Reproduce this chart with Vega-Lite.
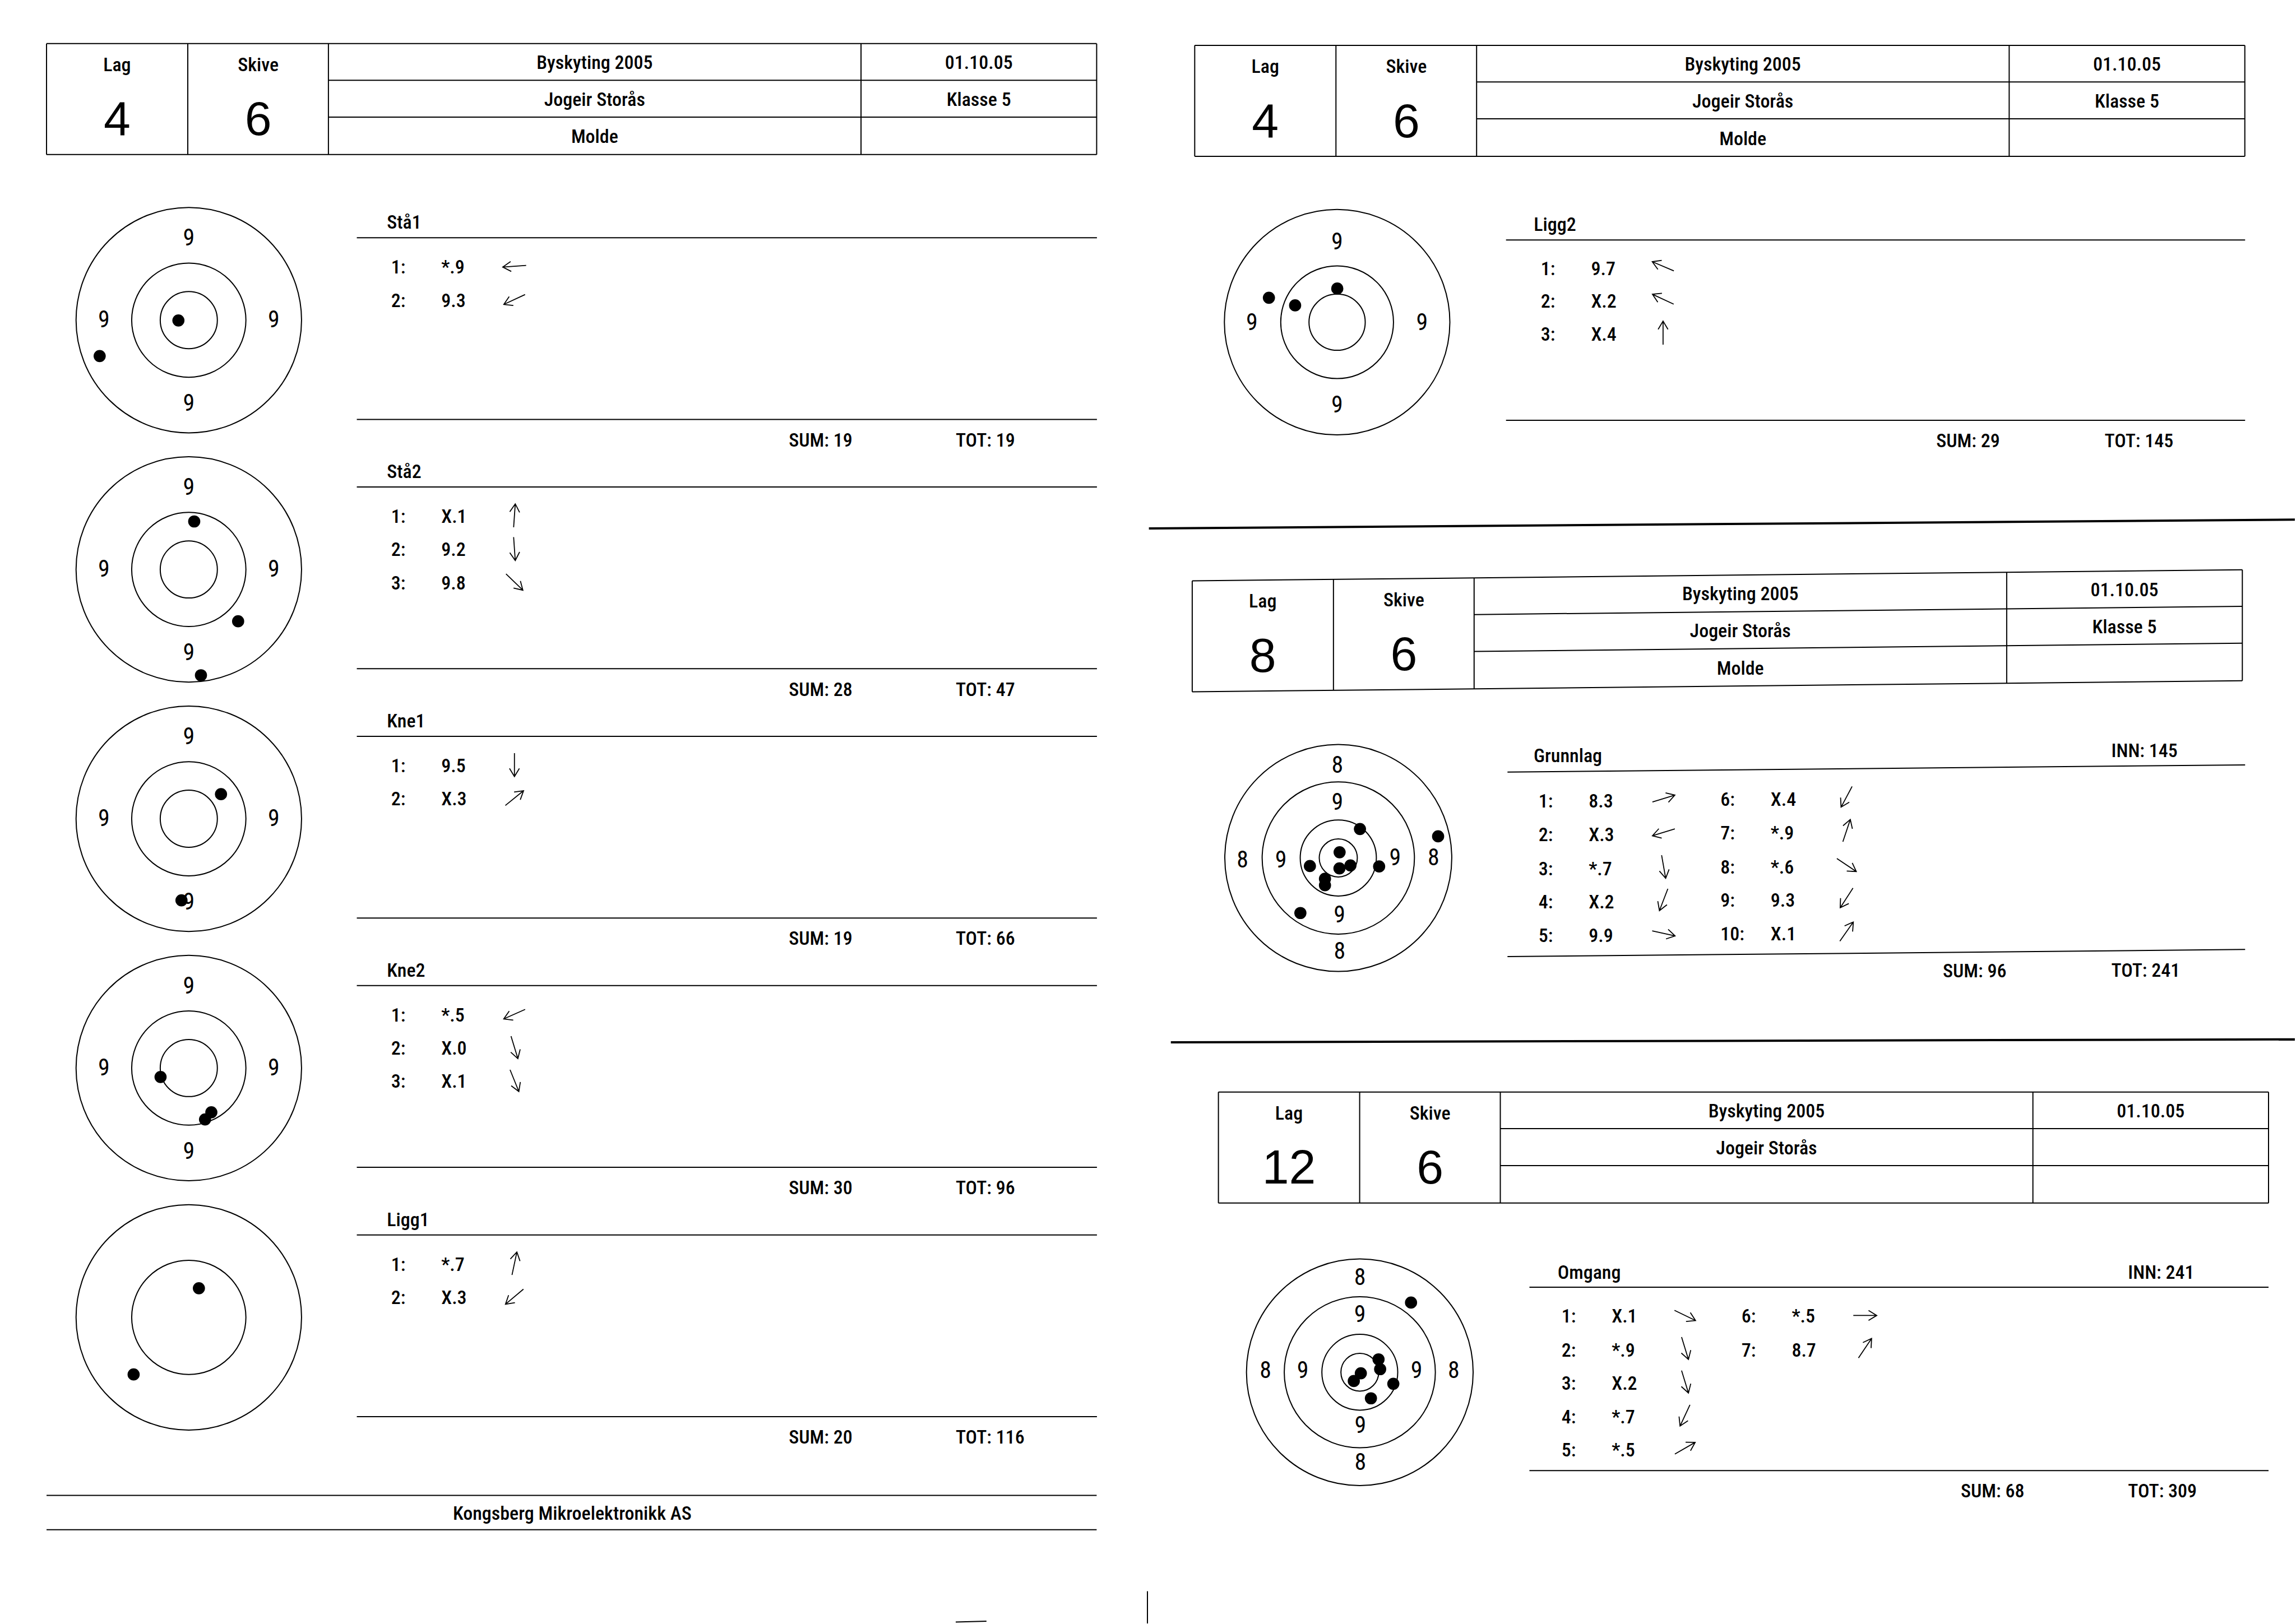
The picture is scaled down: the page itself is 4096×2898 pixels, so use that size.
{
"$schema":"https://vega.github.io/schema/vega-lite/v6.json",
"width":4096,"height":2898,"padding":0,
"autosize":{"type":"fit","contains":"padding"},
"background":"white",
"config":{"view":{"stroke":null}},
"datasets":{
"lines":[
{"x":31.8,"y":29.8,"x2":749.3,"y2":29.8},{"x":31.8,"y":105.6,"x2":749.3,"y2":105.6},
{"x":31.8,"y":29.8,"x2":31.8,"y2":105.6},{"x":128.3,"y":29.8,"x2":128.3,"y2":105.6},{"x":224.4,"y":29.8,"x2":224.4,"y2":105.6},{"x":588.3,"y":29.8,"x2":588.3,"y2":105.6},{"x":749.3,"y":29.8,"x2":749.3,"y2":105.6},
{"x":224.4,"y":54.8,"x2":749.3,"y2":54.8},{"x":224.4,"y":80,"x2":749.3,"y2":80},
{"x":243.8,"y":162.4,"x2":749.5,"y2":162.4},{"x":243.8,"y":286.5,"x2":749.5,"y2":286.5},
{"x":243.8,"y":332.7,"x2":749.5,"y2":332.7},{"x":243.8,"y":456.8,"x2":749.5,"y2":456.8},
{"x":243.8,"y":503,"x2":749.5,"y2":503},{"x":243.8,"y":627.1,"x2":749.5,"y2":627.1},
{"x":243.8,"y":673.3,"x2":749.5,"y2":673.3},{"x":243.8,"y":797.4,"x2":749.5,"y2":797.4},
{"x":243.8,"y":843.6,"x2":749.5,"y2":843.6},{"x":243.8,"y":967.7,"x2":749.5,"y2":967.7},
{"x":31.8,"y":1021.5,"x2":749.3,"y2":1021.5},{"x":31.8,"y":1045,"x2":749.3,"y2":1045},
{"x":816.3,"y":31,"x2":1533.8,"y2":31},{"x":816.3,"y":106.8,"x2":1533.8,"y2":106.8},
{"x":816.3,"y":31,"x2":816.3,"y2":106.8},{"x":912.8,"y":31,"x2":912.8,"y2":106.8},{"x":1008.9,"y":31,"x2":1008.9,"y2":106.8},{"x":1372.8,"y":31,"x2":1372.8,"y2":106.8},{"x":1533.8,"y":31,"x2":1533.8,"y2":106.8},
{"x":1008.9,"y":56,"x2":1533.8,"y2":56},{"x":1008.9,"y":81.2,"x2":1533.8,"y2":81.2},
{"x":1029,"y":163.9,"x2":1534,"y2":163.9},{"x":1029,"y":287.1,"x2":1534,"y2":287.1},
{"x":814.6,"y":396.8,"x2":1532.1,"y2":389.2},{"x":814.6,"y":472.6,"x2":1532.1,"y2":465.0},
{"x":814.6,"y":396.8,"x2":814.6,"y2":472.6},{"x":911.1,"y":395.8,"x2":911.1,"y2":471.6},{"x":1007.2,"y":394.8,"x2":1007.2,"y2":470.6},{"x":1371.1,"y":390.9,"x2":1371.1,"y2":466.7},{"x":1532.1,"y":389.2,"x2":1532.1,"y2":465.0},
{"x":1007.2,"y":419.8,"x2":1532.1,"y2":414.2},{"x":1007.2,"y":445.0,"x2":1532.1,"y2":439.4},
{"x":1030,"y":527.4,"x2":1534,"y2":522.5},{"x":1030,"y":653.5,"x2":1534,"y2":648.6},
{"x":832.5,"y":746,"x2":1550,"y2":746},{"x":832.5,"y":821.8,"x2":1550,"y2":821.8},
{"x":832.5,"y":746,"x2":832.5,"y2":821.8},{"x":929,"y":746,"x2":929,"y2":821.8},{"x":1025.1,"y":746,"x2":1025.1,"y2":821.8},{"x":1389,"y":746,"x2":1389,"y2":821.8},{"x":1550,"y":746,"x2":1550,"y2":821.8},
{"x":1025.1,"y":771,"x2":1550,"y2":771},{"x":1025.1,"y":796.2,"x2":1550,"y2":796.2},
{"x":1045,"y":879.3,"x2":1550,"y2":879.3},{"x":1045,"y":1004.6,"x2":1550,"y2":1004.6},
{"x":784,"y":1087,"x2":784,"y2":1109},{"x":653,"y":1108,"x2":674,"y2":1107.5}
],
"seps":[
{"x":785,"y":361,"x2":1568,"y2":355},{"x":800,"y":712,"x2":1568,"y2":710}
],
"rings":[
{"x":129,"y":218.7,"r":77},{"x":129,"y":218.7,"r":39},{"x":129,"y":218.7,"r":19.5},
{"x":129,"y":389,"r":77},{"x":129,"y":389,"r":39},{"x":129,"y":389,"r":19.5},
{"x":129,"y":559.3,"r":77},{"x":129,"y":559.3,"r":39},{"x":129,"y":559.3,"r":19.5},
{"x":129,"y":729.6,"r":77},{"x":129,"y":729.6,"r":39},{"x":129,"y":729.6,"r":19.5},
{"x":129,"y":899.9,"r":77},{"x":129,"y":899.9,"r":39},
{"x":913.6,"y":220.1,"r":77},{"x":913.6,"y":220.1,"r":38.5},{"x":913.6,"y":220.1,"r":19.2},
{"x":914.4,"y":586.1,"r":77.5},{"x":914.4,"y":586.1,"r":52},{"x":914.4,"y":586.1,"r":26},{"x":914.4,"y":586.1,"r":13},
{"x":929.1,"y":937.4,"r":77.4},{"x":929.1,"y":937.4,"r":51.6},{"x":929.1,"y":937.4,"r":25.9},{"x":929.1,"y":937.4,"r":12.9}
],
"shots":[
{"x":121.9,"y":218.9},{"x":68.1,"y":243.2},
{"x":132.7,"y":356.2},{"x":162.7,"y":424.4},{"x":137.3,"y":461.3},
{"x":151,"y":542.5},{"x":124,"y":615},
{"x":109.7,"y":735.7},{"x":144.4,"y":759.8},{"x":140.1,"y":764.7},
{"x":135.9,"y":880},{"x":91.3,"y":938.9},
{"x":913.7,"y":197.1},{"x":884.9,"y":208.6},{"x":867,"y":203.4},
{"x":929.2,"y":566.3},{"x":982.6,"y":571.3},{"x":915.3,"y":582.2},{"x":922.7,"y":591.2},{"x":915.2,"y":593.2},{"x":942.3,"y":591.9},{"x":895,"y":591.6},{"x":905.3,"y":600.3},{"x":905.3,"y":604.7},{"x":888.5,"y":623.7},
{"x":964.1,"y":889.8},{"x":941.9,"y":928.6},{"x":943,"y":935.3},{"x":929.8,"y":938.1},{"x":925,"y":943.4},{"x":952,"y":945.3},{"x":936.7,"y":955.2}
],
"ringlabels":[
{"x":129,"y":162.7,"t":"9"},{"x":129,"y":275.7,"t":"9"},{"x":71,"y":218.7,"t":"9"},{"x":187,"y":218.7,"t":"9"},
{"x":129,"y":333,"t":"9"},{"x":129,"y":446,"t":"9"},{"x":71,"y":389,"t":"9"},{"x":187,"y":389,"t":"9"},
{"x":129,"y":503.3,"t":"9"},{"x":129,"y":616.3,"t":"9"},{"x":71,"y":559.3,"t":"9"},{"x":187,"y":559.3,"t":"9"},
{"x":129,"y":673.6,"t":"9"},{"x":129,"y":786.6,"t":"9"},{"x":71,"y":729.6,"t":"9"},{"x":187,"y":729.6,"t":"9"},
{"x":913.6,"y":165.2,"t":"9"},{"x":913.6,"y":276.6,"t":"9"},{"x":855.4,"y":220.4,"t":"9"},{"x":971.6,"y":220.4,"t":"9"},
{"x":913.8,"y":523,"t":"8"},{"x":915.3,"y":650.2,"t":"8"},{"x":849,"y":587.7,"t":"8"},{"x":979.5,"y":586.1,"t":"8"},
{"x":913.8,"y":548.2,"t":"9"},{"x":915.2,"y":625,"t":"9"},{"x":875.2,"y":587.7,"t":"9"},{"x":953.2,"y":586.1,"t":"9"},
{"x":929.2,"y":872.9,"t":"8"},{"x":929.5,"y":999.3,"t":"8"},{"x":864.7,"y":936.3,"t":"8"},{"x":993.3,"y":936.3,"t":"8"},
{"x":929.2,"y":898.2,"t":"9"},{"x":929.5,"y":973.9,"t":"9"},{"x":890.1,"y":936.3,"t":"9"},{"x":967.9,"y":936.3,"t":"9"}
],
"centered":[
{"x":80,"y":48.6,"t":"Lag"},{"x":176.4,"y":48.6,"t":"Skive"},{"x":406.3,"y":47.1,"t":"Byskyting 2005"},{"x":668.8,"y":47.1,"t":"01.10.05"},{"x":406.3,"y":72.3,"t":"Jogeir Storås"},{"x":668.8,"y":72.3,"t":"Klasse 5"},{"x":406.3,"y":97.8,"t":"Molde"},
{"x":864.5,"y":49.8,"t":"Lag"},{"x":960.9,"y":49.8,"t":"Skive"},{"x":1190.8,"y":48.3,"t":"Byskyting 2005"},{"x":1453.3,"y":48.3,"t":"01.10.05"},{"x":1190.8,"y":73.5,"t":"Jogeir Storås"},{"x":1453.3,"y":73.5,"t":"Klasse 5"},{"x":1190.8,"y":99,"t":"Molde"},
{"x":862.8,"y":415.1,"t":"Lag"},{"x":959.2,"y":414.1,"t":"Skive"},{"x":1189.1,"y":410.1,"t":"Byskyting 2005"},{"x":1451.6,"y":407.3,"t":"01.10.05"},{"x":1189.1,"y":435.3,"t":"Jogeir Storås"},{"x":1451.6,"y":432.5,"t":"Klasse 5"},{"x":1189.1,"y":460.8,"t":"Molde"},
{"x":880.7,"y":764.8,"t":"Lag"},{"x":977.1,"y":764.8,"t":"Skive"},{"x":1207,"y":763.3,"t":"Byskyting 2005"},{"x":1469.5,"y":763.3,"t":"01.10.05"},{"x":1207,"y":788.5,"t":"Jogeir Storås"},
{"x":391,"y":1038,"t":"Kongsberg Mikroelektronikk AS"}
],
"big":[
{"x":80,"y":92.4,"t":"4"},{"x":176.4,"y":92.4,"t":"6"},
{"x":864.5,"y":93.6,"t":"4"},{"x":960.9,"y":93.6,"t":"6"},
{"x":862.8,"y":458.9,"t":"8"},{"x":959.2,"y":457.9,"t":"6"},
{"x":880.7,"y":808.6,"t":"12"},{"x":977.1,"y":808.6,"t":"6"}
],
"lefttexts":[
{"x":264.4,"y":156.2,"t":"Stå1"},{"x":264.4,"y":326.5,"t":"Stå2"},{"x":264.4,"y":496.8,"t":"Kne1"},{"x":264.4,"y":667.1,"t":"Kne2"},{"x":264.4,"y":837.4,"t":"Ligg1"},
{"x":539,"y":305,"t":"SUM: 19"},{"x":653,"y":305,"t":"TOT: 19"},
{"x":539,"y":475.3,"t":"SUM: 28"},{"x":653,"y":475.3,"t":"TOT: 47"},
{"x":539,"y":645.6,"t":"SUM: 19"},{"x":653,"y":645.6,"t":"TOT: 66"},
{"x":539,"y":815.9,"t":"SUM: 30"},{"x":653,"y":815.9,"t":"TOT: 96"},
{"x":539,"y":986.2,"t":"SUM: 20"},{"x":653,"y":986.2,"t":"TOT: 116"},
{"x":1048,"y":157.9,"t":"Ligg2"},{"x":1323,"y":305.6,"t":"SUM: 29"},{"x":1438,"y":305.6,"t":"TOT: 145"},
{"x":1047.9,"y":520.8,"t":"Grunnlag"},{"x":1442.6,"y":517,"t":"INN: 145"},{"x":1327.5,"y":667.8,"t":"SUM: 96"},{"x":1442.6,"y":667.2,"t":"TOT: 241"},
{"x":1064.3,"y":873.4,"t":"Omgang"},{"x":1454,"y":873.4,"t":"INN: 241"},{"x":1339.7,"y":1022.9,"t":"SUM: 68"},{"x":1454,"y":1022.9,"t":"TOT: 309"}
],
"rows":[
{"x":267.2,"y":186.9,"n":"1:","v":"*.9"},{"x":267.2,"y":209.6,"n":"2:","v":"9.3"},
{"x":267.2,"y":357.2,"n":"1:","v":"X.1"},{"x":267.2,"y":379.9,"n":"2:","v":"9.2"},{"x":267.2,"y":402.6,"n":"3:","v":"9.8"},
{"x":267.2,"y":527.5,"n":"1:","v":"9.5"},{"x":267.2,"y":550.2,"n":"2:","v":"X.3"},
{"x":267.2,"y":697.8,"n":"1:","v":"*.5"},{"x":267.2,"y":720.5,"n":"2:","v":"X.0"},{"x":267.2,"y":743.2,"n":"3:","v":"X.1"},
{"x":267.2,"y":868.1,"n":"1:","v":"*.7"},{"x":267.2,"y":890.8,"n":"2:","v":"X.3"},
{"x":1052.8,"y":188,"n":"1:","v":"9.7"},{"x":1052.8,"y":210.2,"n":"2:","v":"X.2"},{"x":1052.8,"y":232.7,"n":"3:","v":"X.4"},
{"x":1051.2,"y":551.5,"n":"1:","v":"8.3"},{"x":1051.2,"y":574.6,"n":"2:","v":"X.3"},{"x":1051.2,"y":598.1,"n":"3:","v":"*.7"},{"x":1051.2,"y":620.6,"n":"4:","v":"X.2"},{"x":1051.2,"y":643.6,"n":"5:","v":"9.9"},
{"x":1175.5,"y":550.3,"n":"6:","v":"X.4"},{"x":1175.5,"y":573.4,"n":"7:","v":"*.9"},{"x":1175.5,"y":596.9,"n":"8:","v":"*.6"},{"x":1175.5,"y":619.4,"n":"9:","v":"9.3"},{"x":1175.5,"y":642.4,"n":"10:","v":"X.1"},
{"x":1066.9,"y":903.6,"n":"1:","v":"X.1"},{"x":1066.9,"y":926.6,"n":"2:","v":"*.9"},{"x":1066.9,"y":949.5,"n":"3:","v":"X.2"},{"x":1066.9,"y":972.5,"n":"4:","v":"*.7"},{"x":1066.9,"y":994.9,"n":"5:","v":"*.5"},
{"x":1189.9,"y":903.6,"n":"6:","v":"*.5"},{"x":1189.9,"y":926.6,"n":"7:","v":"8.7"}
],
"arrows":[
{"x":351.5,"y":181.9,"dir":176},{"x":351.5,"y":204.6,"dir":155},
{"x":351.5,"y":352.2,"dir":274},{"x":351.5,"y":374.9,"dir":86},{"x":351.5,"y":397.6,"dir":44},
{"x":351.5,"y":522.5,"dir":90},{"x":351.5,"y":545.2,"dir":321},
{"x":351.5,"y":692.8,"dir":156},{"x":351.5,"y":715.5,"dir":73},{"x":351.5,"y":738.2,"dir":68},
{"x":351.5,"y":863.1,"dir":282},{"x":351.5,"y":885.8,"dir":140},
{"x":1136.3,"y":181.9,"dir":203},{"x":1136.3,"y":204.4,"dir":205},{"x":1136.3,"y":227.4,"dir":270},
{"x":1136.7,"y":545.5,"dir":343},{"x":1136.7,"y":568.6,"dir":163},{"x":1136.7,"y":592.1,"dir":80},{"x":1136.7,"y":614.6,"dir":111},{"x":1136.7,"y":637.6,"dir":12.5},
{"x":1261.7,"y":544.3,"dir":118},{"x":1261.7,"y":567.4,"dir":288.5},{"x":1261.7,"y":590.9,"dir":34},{"x":1261.7,"y":613.4,"dir":123},{"x":1261.7,"y":636.4,"dir":305},
{"x":1151.3,"y":898.6,"dir":26},{"x":1151.3,"y":921,"dir":73},{"x":1151.3,"y":943.9,"dir":73},{"x":1151.3,"y":966.9,"dir":115},{"x":1151.3,"y":989.3,"dir":330},
{"x":1274.3,"y":898.6,"dir":0},{"x":1274.3,"y":921,"dir":304}
]
},
"encoding":{
"x":{"field":"x","type":"quantitative","scale":{"domain":[0,1568],"nice":false,"zero":false},"axis":null},
"y":{"field":"y","type":"quantitative","scale":{"domain":[0,1109],"reverse":true,"nice":false,"zero":false},"axis":null}
},
"layer":[
{"data":{"name":"lines"},"mark":{"type":"rule","stroke":"black","strokeWidth":2},
 "encoding":{"x2":{"field":"x2"},"y2":{"field":"y2"}}},
{"data":{"name":"seps"},"mark":{"type":"rule","stroke":"black","strokeWidth":4},
 "encoding":{"x2":{"field":"x2"},"y2":{"field":"y2"}}},
{"data":{"name":"rings"},"mark":{"type":"point","shape":"circle","filled":false,"stroke":"black","strokeWidth":2,"opacity":1},
 "encoding":{"size":{"field":"r","type":"quantitative","scale":{"type":"pow","exponent":2,"domain":[0,100],"range":[0,272943]},"legend":null}}},
{"data":{"name":"shots"},"mark":{"type":"point","shape":"circle","filled":true,"fill":"black","stroke":null,"size":470,"opacity":1}},
{"data":{"name":"ringlabels"},"mark":{"type":"text","font":"Roboto Condensed, DejaVu Sans Condensed, sans-serif","fontSize":42,"align":"center","baseline":"middle","fill":"black"},
 "encoding":{"text":{"field":"t"}}},
{"data":{"name":"centered"},"mark":{"type":"text","font":"Roboto Condensed, DejaVu Sans Condensed, sans-serif","fontSize":34,"fontWeight":500,"align":"center","baseline":"alphabetic","fill":"black"},
 "encoding":{"text":{"field":"t"}}},
{"data":{"name":"big"},"mark":{"type":"text","font":"Liberation Sans, Arial, sans-serif","fontSize":86,"align":"center","baseline":"alphabetic","fill":"black"},
 "encoding":{"text":{"field":"t"}}},
{"data":{"name":"lefttexts"},"mark":{"type":"text","font":"Roboto Condensed, DejaVu Sans Condensed, sans-serif","fontSize":34,"fontWeight":500,"align":"left","baseline":"alphabetic","fill":"black"},
 "encoding":{"text":{"field":"t"}}},
{"data":{"name":"rows"},"mark":{"type":"text","font":"Roboto Condensed, DejaVu Sans Condensed, sans-serif","fontSize":34,"fontWeight":500,"align":"left","baseline":"alphabetic","fill":"black"},
 "encoding":{"text":{"field":"n"}}},
{"data":{"name":"rows"},"mark":{"type":"text","font":"Roboto Condensed, DejaVu Sans Condensed, sans-serif","fontSize":34,"fontWeight":500,"align":"left","baseline":"alphabetic","dx":89.6,"fill":"black"},
 "encoding":{"text":{"field":"v"}}},
{"data":{"name":"arrows"},"mark":{"type":"point","shape":"M -1 0 L 1 0 M 0.3 -0.42 L 1 0 L 0.3 0.42","filled":false,"stroke":"black","strokeWidth":1.8,"size":1750,"opacity":1},
 "encoding":{"angle":{"field":"dir","type":"quantitative","scale":{"domain":[0,360],"range":[0,360]}}}}
]
}
